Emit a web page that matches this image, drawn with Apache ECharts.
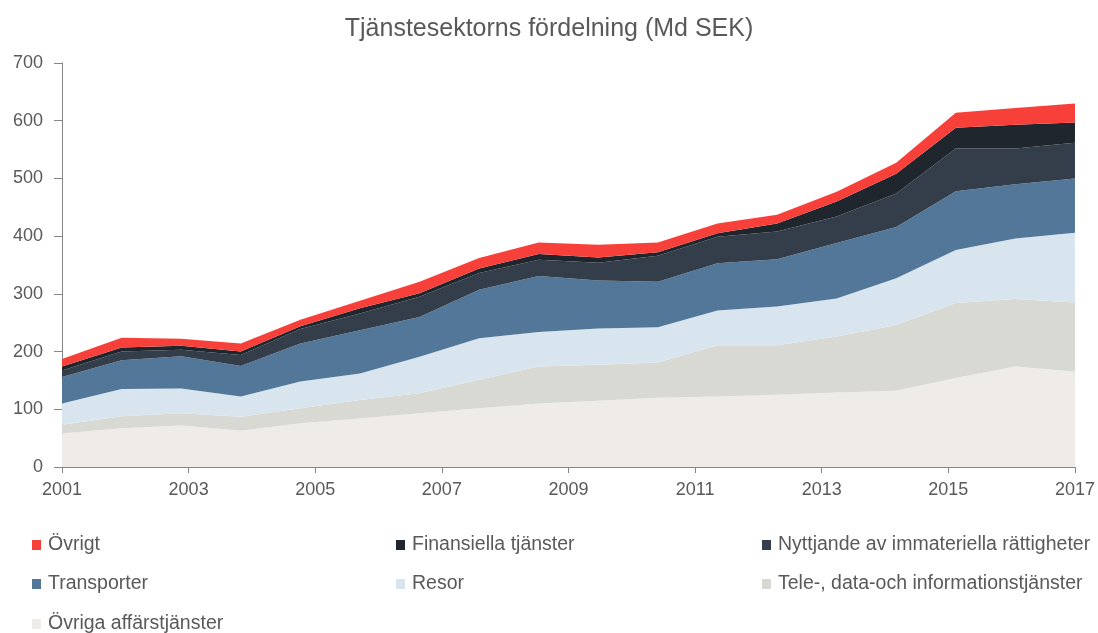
<!DOCTYPE html>
<html>
<head>
<meta charset="utf-8">
<title>Tjänstesektorns fördelning</title>
<script src="https://cdn.jsdelivr.net/npm/echarts@6/dist/echarts.min.js"></script>
<style>
  html, body { margin: 0; padding: 0; background: #fff; }
  #main { width: 1098px; height: 633px; }
</style>
</head>
<body>
<div id="main"></div>
<script>
// 18 mätpunkter jämnt fördelade mellan 2001 och 2017
var points = ['p1', 'p2', 'p3', 'p4', 'p5', 'p6', 'p7', 'p8', 'p9',
              'p10', 'p11', 'p12', 'p13', 'p14', 'p15', 'p16', 'p17', 'p18'];
var yearTicks = [2001, 2003, 2005, 2007, 2009, 2011, 2013, 2015, 2017];

// värden i Md SEK, nedersta lagret först
var ovrigaAffars = [58, 67, 72, 63, 76, 84, 93, 102, 110, 115, 120, 122, 125, 129, 132, 154, 174, 165];
var teleData     = [15, 21, 21, 24, 26, 32, 35, 49, 64, 62, 61, 89, 86, 97, 114, 130, 117, 120];
var resor        = [37, 47, 43, 35, 46, 46, 63, 72, 60, 63, 61, 60, 67, 66, 81, 92, 105, 121];
var transporter  = [46, 50, 56, 53, 66, 75, 69, 84, 97, 83, 79, 82, 82, 96, 89, 102, 94, 94];
var nyttjande    = [11, 15, 11, 19, 25, 29, 35, 29, 28, 31, 45, 46, 48, 46, 58, 74, 62, 62];
var finansiella  = [7, 7, 7, 6, 5, 9, 6, 8, 10, 9, 6, 6, 14, 26, 34, 36, 41, 35];
var ovrigt       = [13, 17, 12, 14, 11, 13, 20, 18, 20, 22, 17, 17, 15, 17, 19, 26, 29, 33];

var font = "'Liberation Sans', Arial, sans-serif";
var textColor = '#595959';
var axisColor = '#868686';

function area(name, data, color) {
    return {
        name: name,
        type: 'line',
        stack: 'total',
        data: data,
        symbol: 'none',
        lineStyle: { width: 0 },
        itemStyle: { color: color },
        areaStyle: { color: color, opacity: 1 },
        xAxisIndex: 0
    };
}

// en legend per post så att tre kolumner hamnar rätt
function legendItem(name, left, top) {
    return {
        left: left,
        top: top,
        padding: 0,
        itemWidth: 9,
        itemHeight: 10,
        icon: 'rect',
        data: [name],
        textStyle: { fontFamily: font, fontSize: 19.5, color: textColor, padding: [0, 0, 0, 2] }
    };
}

var myChart = echarts.init(document.getElementById('main'));
myChart.setOption({
    animation: false,
    backgroundColor: '#fff',
    title: {
        text: 'Tjänstesektorns fördelning (Md SEK)',
        left: 'center',
        top: 12,
        textStyle: { fontFamily: font, fontSize: 25, fontWeight: 'normal', color: textColor }
    },
    legend: [
        legendItem('Övrigt', 32, 535),
        legendItem('Finansiella tjänster', 396, 535),
        legendItem('Nyttjande av immateriella rättigheter', 762, 535),
        legendItem('Transporter', 32, 574),
        legendItem('Resor', 396, 574),
        legendItem('Tele-, data-och informationstjänster', 762, 574),
        legendItem('Övriga affärstjänster', 32, 614)
    ],
    grid: { left: 62, right: 23, top: 63, bottom: 166 },
    xAxis: [{
        type: 'category',
        data: points,
        boundaryGap: false,
        show: false
    }, {
        type: 'value',
        position: 'bottom',
        min: yearTicks[0],
        max: yearTicks[yearTicks.length - 1],
        interval: 2,
        splitLine: { show: false },
        axisLine: { show: true, onZero: false, lineStyle: { color: axisColor, width: 1 } },
        axisTick: { show: true, length: 6, lineStyle: { color: axisColor } },
        axisLabel: {
            fontFamily: font, fontSize: 18, color: textColor, margin: 14,
            formatter: function (v) { return String(v); }
        }
    }],
    yAxis: {
        type: 'value',
        min: 0,
        max: 700,
        interval: 100,
        splitLine: { show: false },
        axisLine: { show: true, lineStyle: { color: axisColor, width: 1 } },
        axisTick: { show: true, length: 8, lineStyle: { color: axisColor } },
        axisLabel: { fontFamily: font, fontSize: 18, color: textColor, margin: 19 }
    },
    series: [
        area('Övriga affärstjänster', ovrigaAffars, '#EEEBE8'),
        area('Tele-, data-och informationstjänster', teleData, '#D9D9D4'),
        area('Resor', resor, '#D8E5EF'),
        area('Transporter', transporter, '#537799'),
        area('Nyttjande av immateriella rättigheter', nyttjande, '#343E4A'),
        area('Finansiella tjänster', finansiella, '#1F262D'),
        area('Övrigt', ovrigt, '#F8403A')
    ]
});
</script>
</body>
</html>
